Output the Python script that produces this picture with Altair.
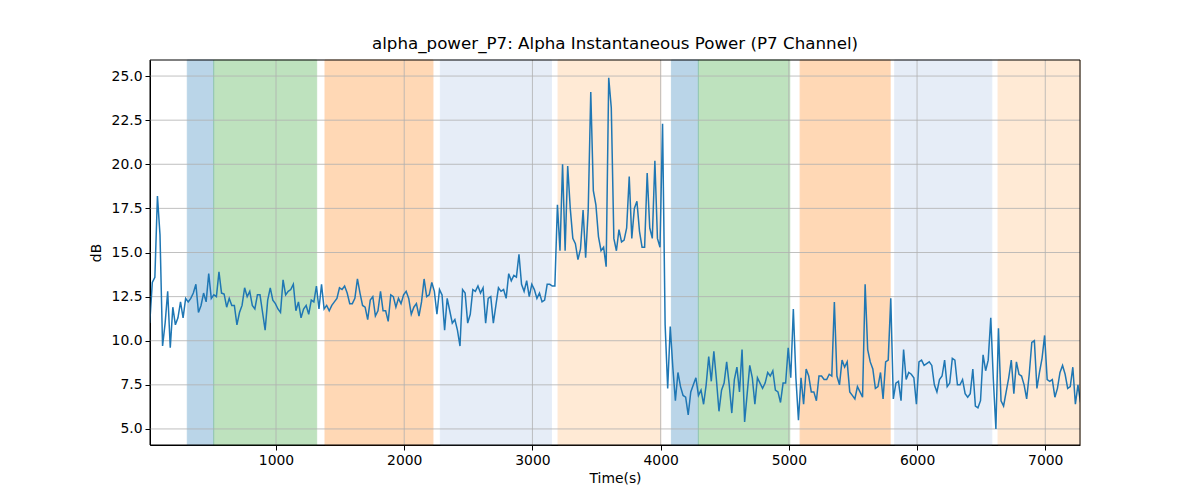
import altair as alt
import pandas as pd

# ---- data ----
T_START = 15      # first sample time (s)
T_STEP = 20       # sampling interval (s)

power_db = [
    11.0, 13.3, 13.6, 18.2, 16.0, 9.7, 11.0, 12.8, 9.6, 11.9,
    10.9, 11.3, 12.2, 11.3, 12.4, 12.2, 12.4, 12.7, 13.2, 11.6,
    12.0, 12.7, 12.2, 13.8, 12.4, 12.6, 12.5, 13.9, 12.7, 12.65,
    11.9, 12.4, 12.0, 12.0, 10.9, 11.6, 12.0, 13.0, 12.5, 12.8,
    12.0, 11.8, 12.6, 12.6, 11.6, 10.6, 12.3, 13.0, 12.3, 12.1,
    11.8, 11.6, 13.45, 12.6, 12.8, 12.9, 13.2, 11.7, 12.2, 11.3,
    11.8, 12.0, 11.5, 12.3, 12.2, 13.1, 11.8, 13.2, 11.8, 12.0,
    11.7, 12.0, 12.2, 12.4, 13.0, 12.9, 13.1, 12.7, 12.1, 12.1,
    12.4, 13.5, 12.7, 12.0, 11.9, 11.2, 12.3, 12.5, 11.4, 11.7,
    12.8, 11.7, 11.7, 11.1, 12.6, 12.5, 11.9, 12.4, 12.1, 12.6,
    12.8, 12.4, 11.5, 11.9, 12.1, 11.4, 12.2, 13.5, 12.5, 12.6,
    13.3, 12.8, 11.5, 12.9, 12.6, 10.6, 12.4, 11.7, 11.0, 11.2,
    10.6, 9.7, 12.9, 12.7, 11.0, 11.5, 12.9, 12.8, 13.1, 12.7,
    13.0, 11.0, 12.4, 12.5, 11.0, 12.0, 13.0, 12.8, 12.9, 12.4,
    13.8, 13.4, 13.7, 13.6, 14.9, 13.2, 12.8, 13.4, 12.5, 13.2,
    12.9, 12.4, 12.7, 12.2, 12.3, 13.2, 13.2, 13.1, 13.1, 17.7,
    15.1, 20.0, 15.1, 19.9, 17.5, 15.8, 15.5, 14.6, 15.2, 17.4,
    14.7, 17.4, 24.1, 18.5, 17.7, 15.9, 15.1, 15.3, 14.2, 24.9,
    23.2, 15.8, 15.1, 16.3, 15.6, 15.7, 16.4, 19.3, 15.8, 17.5,
    17.9, 16.2, 15.3, 15.3, 19.5, 16.4, 15.8, 20.2, 15.8, 15.3,
    22.3, 10.9, 7.3, 10.8, 8.5, 6.6, 8.2, 7.4, 6.9, 6.8,
    5.8, 7.1, 7.5, 7.9, 6.9, 7.2, 6.4, 7.5, 9.1, 7.7,
    9.4, 7.8, 6.0, 7.2, 7.6, 8.8, 7.5, 5.9, 7.8, 8.5,
    7.1, 9.5, 5.4, 7.0, 8.6, 7.9, 6.4, 7.9, 7.6, 7.3,
    7.6, 8.2, 8.0, 8.3, 7.2, 7.1, 6.5, 7.6, 7.6, 9.6,
    7.9, 11.8, 7.9, 5.5, 7.9, 6.4, 8.4, 8.0, 7.1, 7.1,
    6.6, 8.0, 8.0, 7.8, 7.8, 8.1, 8.0, 12.2, 8.0, 7.5,
    8.9, 8.5, 8.8, 7.1, 6.9, 6.7, 7.4, 7.1, 6.8, 13.2,
    9.5, 8.8, 8.4, 7.3, 7.4, 8.2, 6.7, 8.8, 8.9, 12.4,
    6.7, 7.6, 7.7, 6.6, 9.5, 7.8, 8.2, 8.1, 7.9, 6.4,
    8.8, 8.9, 8.6, 8.7, 8.8, 8.6, 7.5, 7.1, 7.8, 8.0,
    8.9, 7.4, 7.6, 9.0, 8.9, 7.5, 7.5, 7.8, 7.0, 6.8,
    7.0, 8.4, 6.3, 6.2, 6.6, 9.2, 8.3, 8.9, 11.3, 7.8,
    5.0, 10.7, 6.6, 6.3, 7.1, 7.9, 8.9, 7.0, 8.8, 8.1,
    8.0, 7.5, 6.7, 8.1, 9.9, 10.0, 7.3, 8.2, 9.0, 10.3,
    7.8, 7.7, 7.8, 6.8, 7.3, 8.2, 8.6, 8.1, 7.3, 7.4,
    8.5, 6.4, 7.5, 6.5,
]
times = [T_START + T_STEP * i for i in range(len(power_db))]

band_start = [308, 514, 1382, 2282, 3200, 4084, 4294, 5088, 5826, 6632]
band_end = [514, 1317, 2224, 3148, 4001, 4294, 5007, 5790, 6583, 7275]
band_color = ["#1f77b4", "#2ca02c", "#ff7f0e", "#aec7e8", "#ffbb78",
              "#1f77b4", "#2ca02c", "#ff7f0e", "#aec7e8", "#ffbb78"]

x_ticks = [1000, 2000, 3000, 4000, 5000, 6000, 7000]
y_ticks = [5.0, 7.5, 10.0, 12.5, 15.0, 17.5, 20.0, 22.5, 25.0]
x_domain = [17, 7271]
y_domain = [4.09, 25.91]

# ---- chart ----
W, H = 930, 385
FONT = "DejaVu Sans"

line_df = pd.DataFrame({"t": times, "v": power_db})
band_df = pd.DataFrame({"t": band_start, "end": band_end, "color": band_color})
xg_df = pd.DataFrame({"t": x_ticks})
yg_df = pd.DataFrame({"v": y_ticks})
frame_df = pd.DataFrame({"k": [0]})

xscale = alt.Scale(domain=x_domain, nice=False, zero=False)
yscale = alt.Scale(domain=y_domain, nice=False, zero=False)

axis_style = dict(
    grid=False, tickSize=5, tickWidth=1, tickColor="black",
    domainColor="black", domainWidth=1,
    labelFont=FONT, labelFontSize=13.9, labelColor="black",
    titleFont=FONT, titleFontSize=13.9, titleFontWeight="normal", titleColor="black",
)
xaxis = alt.Axis(title="Time(s)", values=x_ticks, format="d",
                 labelPadding=3, titlePadding=5, **axis_style)
yaxis = alt.Axis(title="dB", values=y_ticks, format=".1f",
                 labelPadding=3, titlePadding=8, **axis_style)

bands = alt.Chart(band_df).mark_rect(opacity=0.3, strokeWidth=1).encode(
    x=alt.X("t:Q", scale=xscale, axis=xaxis),
    x2="end:Q",
    y=alt.value(0),
    y2=alt.value(H),
    fill=alt.Fill("color:N", scale=None),
    stroke=alt.Stroke("color:N", scale=None),
)

xgrid = alt.Chart(xg_df).mark_rule(color="#b0b0b0", strokeWidth=0.8).encode(
    x=alt.X("t:Q", scale=xscale, axis=xaxis)
)
ygrid = alt.Chart(yg_df).mark_rule(color="#b0b0b0", strokeWidth=0.8).encode(
    y=alt.Y("v:Q", scale=yscale, axis=yaxis)
)

line = alt.Chart(line_df).mark_line(color="#1f77b4", strokeWidth=1.5, clip=True).encode(
    x=alt.X("t:Q", scale=xscale, axis=xaxis),
    y=alt.Y("v:Q", scale=yscale, axis=yaxis),
)

frame = alt.Chart(frame_df).mark_rect(fillOpacity=0, stroke="black", strokeWidth=1).encode(
    x=alt.value(0), x2=alt.value(W), y=alt.value(0), y2=alt.value(H)
)

chart = alt.layer(bands, xgrid, ygrid, line, frame).properties(
    width=W,
    height=H,
    background="white",
    title=alt.TitleParams(
        "alpha_power_P7: Alpha Instantaneous Power (P7 Channel)",
        font=FONT, fontSize=16.7, fontWeight="normal", color="black",
        anchor="middle", offset=7,
    ),
    autosize=alt.AutoSizeParams(type="none"),
    padding={"left": 142, "top": 52, "right": 100, "bottom": 45},
).configure_view(
    stroke=None
)

chart.save("out.html", embed_options={"renderer": "svg", "actions": False})
